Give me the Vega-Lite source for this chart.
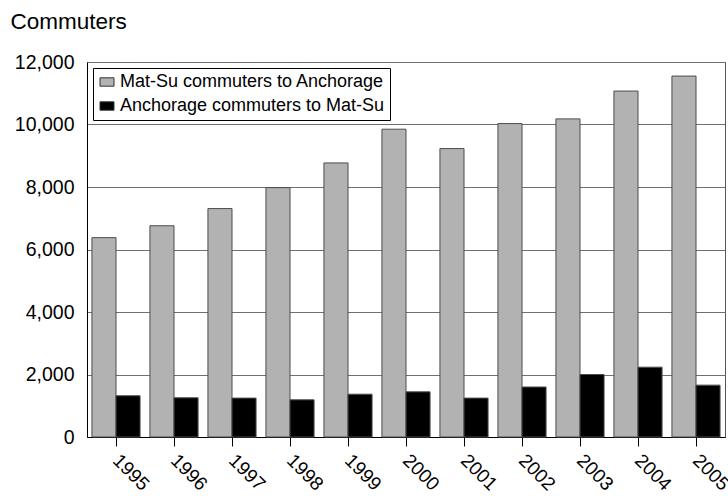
{
  "$schema": "https://vega.github.io/schema/vega-lite/v6.json",
  "width": 638,
  "height": 375,
  "autosize": "none",
  "padding": {"left": 87, "top": 62, "right": 3, "bottom": 59},
  "background": "white",
  "config": {
    "font": "Liberation Sans",
    "view": {"stroke": "#555555", "strokeWidth": 1}
  },
  "data": {
    "values": [
      {"year": "1995", "series": "Mat-Su commuters to Anchorage", "value": 6380},
      {"year": "1996", "series": "Mat-Su commuters to Anchorage", "value": 6760},
      {"year": "1997", "series": "Mat-Su commuters to Anchorage", "value": 7310},
      {"year": "1998", "series": "Mat-Su commuters to Anchorage", "value": 7980},
      {"year": "1999", "series": "Mat-Su commuters to Anchorage", "value": 8770},
      {"year": "2000", "series": "Mat-Su commuters to Anchorage", "value": 9850},
      {"year": "2001", "series": "Mat-Su commuters to Anchorage", "value": 9230},
      {"year": "2002", "series": "Mat-Su commuters to Anchorage", "value": 10030},
      {"year": "2003", "series": "Mat-Su commuters to Anchorage", "value": 10180},
      {"year": "2004", "series": "Mat-Su commuters to Anchorage", "value": 11070},
      {"year": "2005", "series": "Mat-Su commuters to Anchorage", "value": 11550},
      {"year": "1995", "series": "Anchorage commuters to Mat-Su", "value": 1320},
      {"year": "1996", "series": "Anchorage commuters to Mat-Su", "value": 1255},
      {"year": "1997", "series": "Anchorage commuters to Mat-Su", "value": 1245},
      {"year": "1998", "series": "Anchorage commuters to Mat-Su", "value": 1190},
      {"year": "1999", "series": "Anchorage commuters to Mat-Su", "value": 1370},
      {"year": "2000", "series": "Anchorage commuters to Mat-Su", "value": 1445},
      {"year": "2001", "series": "Anchorage commuters to Mat-Su", "value": 1245},
      {"year": "2002", "series": "Anchorage commuters to Mat-Su", "value": 1600},
      {"year": "2003", "series": "Anchorage commuters to Mat-Su", "value": 2000},
      {"year": "2004", "series": "Anchorage commuters to Mat-Su", "value": 2235},
      {"year": "2005", "series": "Anchorage commuters to Mat-Su", "value": 1660}
    ]
  },
  "mark": {"type": "bar", "stroke": "#4d4d4d", "strokeWidth": 1},
  "encoding": {
    "x": {
      "field": "year",
      "type": "nominal",
      "scale": {"paddingInner": 0.17, "paddingOuter": 0.085},
      "axis": {
        "title": null,
        "labelAngle": 45,
        "labelAlign": "left",
        "labelBaseline": "middle",
        "labelFontSize": 19,
        "labelColor": "black",
        "tickSize": 9,
        "tickColor": "black",
        "domainColor": "black",
        "labelPadding": 11,
        "grid": false
      }
    },
    "xOffset": {
      "field": "series",
      "sort": ["Mat-Su commuters to Anchorage", "Anchorage commuters to Mat-Su"],
      "scale": {"paddingInner": 0, "paddingOuter": 0}
    },
    "y": {
      "field": "value",
      "type": "quantitative",
      "scale": {"domain": [0, 12000]},
      "axis": {
        "values": [0, 2000, 4000, 6000, 8000, 10000, 12000],
        "format": ",.0f",
        "title": "Commuters",
        "titleAngle": 0,
        "titleX": -77,
        "titleY": -34,
        "titleAlign": "left",
        "titleBaseline": "alphabetic",
        "titleFontSize": 22.5,
        "titleFontWeight": "normal",
        "titleColor": "black",
        "labelFontSize": 19.5,
        "labelColor": "black",
        "labelPadding": 13,
        "ticks": false,
        "domainColor": "black",
        "gridColor": "#6f6f6f",
        "gridOpacity": 1
      }
    },
    "color": {
      "field": "series",
      "type": "nominal",
      "sort": ["Mat-Su commuters to Anchorage", "Anchorage commuters to Mat-Su"],
      "scale": {
        "domain": ["Mat-Su commuters to Anchorage", "Anchorage commuters to Mat-Su"],
        "range": ["#b2b2b2", "#000000"]
      },
      "legend": {
        "title": null,
        "orient": "none",
        "legendX": 6,
        "legendY": 6,
        "strokeColor": "black",
        "fillColor": "white",
        "padding": 5,
        "labelFontSize": 18,
        "labelLimit": 0,
        "labelColor": "black",
        "labelOffset": 4,
        "symbolType": "M-1,-0.6H1V0.6H-1Z",
        "symbolSize": 196,
        "symbolStrokeColor": "#333333",
        "symbolStrokeWidth": 1,
        "rowPadding": 6
      }
    }
  }
}
